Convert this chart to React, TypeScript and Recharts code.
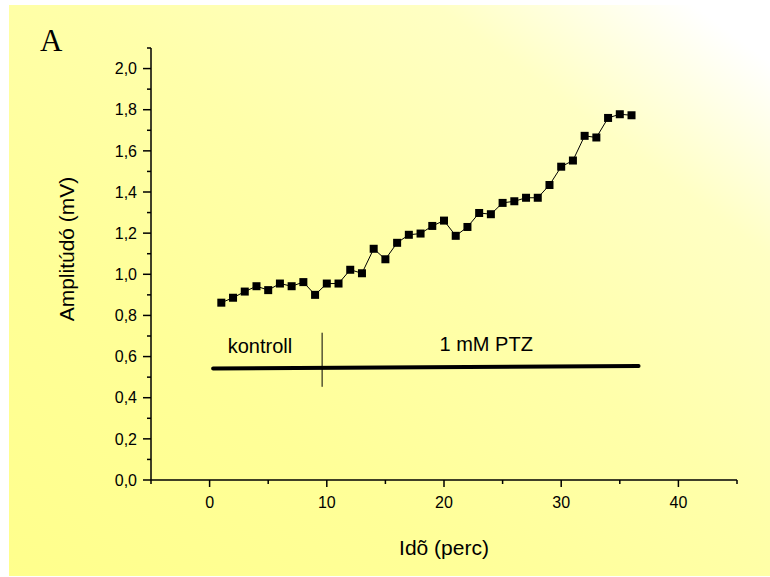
import React from "react";
import {
  ComposedChart,
  Line,
  XAxis,
  YAxis,
  ReferenceLine,
  ReferenceDot,
  Label,
} from "recharts";

// Idõ (perc) – minutes
const time = [
  1, 2, 3, 4, 5, 6, 7, 8, 9, 10, 11, 12, 13, 14, 15, 16, 17, 18, 19, 20, 21, 22, 23, 24, 25, 26,
  27, 28, 29, 30, 31, 32, 33, 34, 35, 36,
];
// Amplitúdó (mV)
const amplitude = [
  0.862, 0.886, 0.916, 0.942, 0.923, 0.955, 0.942, 0.962, 0.9, 0.955, 0.955, 1.022, 1.005, 1.124,
  1.073, 1.153, 1.192, 1.198, 1.235, 1.261, 1.187, 1.23, 1.298, 1.292, 1.347, 1.355, 1.372, 1.372,
  1.434, 1.523, 1.553, 1.673, 1.665, 1.76, 1.778, 1.773,
];

const xTicks = [-5, 0, 5, 10, 15, 20, 25, 30, 35, 40, 45];
const yTicks = [
  0, 0.1, 0.2, 0.3, 0.4, 0.5, 0.6, 0.7, 0.8, 0.9, 1.0, 1.1, 1.2, 1.3, 1.4, 1.5, 1.6, 1.7, 1.8,
  1.9, 2.0, 2.1,
];

// treatment bar: kontroll -> 1 mM PTZ
const barStart = { x: 0.3, y: 0.542 };
const barEnd = { x: 36.6, y: 0.554 };
const drugOnset = 9.6;
const onsetMarkLow = 0.453;
const onsetMarkHigh = 0.716;
const phaseLabels = [
  { x: 4.3, y: 0.65, text: "kontroll" },
  { x: 23.6, y: 0.663, text: "1 mM PTZ" },
];

const FONT = "'Liberation Sans', Arial, sans-serif";

const data = time.map((t, i) => ({ t, amp: amplitude[i] }));

function XTick(props: any) {
  const { x, y, payload } = props;
  const major = payload.value % 10 === 0;
  return (
    <g>
      <line x1={x} y1={y} x2={x} y2={y + (major ? 7 : 4)} stroke="#000" strokeWidth={1.5} />
      {major && (
        <text x={x} y={y + 28} textAnchor="middle" fontSize={16} fontFamily={FONT} fill="#000">
          {payload.value}
        </text>
      )}
    </g>
  );
}

function YTick(props: any) {
  const { x, y, payload } = props;
  const major = Math.round(payload.value * 10) % 2 === 0;
  return (
    <g>
      <line x1={x} y1={y} x2={x - (major ? 8 : 4)} y2={y} stroke="#000" strokeWidth={1.5} />
      {major && (
        <text x={x - 14} y={y} dy="0.36em" textAnchor="end" fontSize={16} fontFamily={FONT} fill="#000">
          {payload.value.toFixed(1).replace(".", ",")}
        </text>
      )}
    </g>
  );
}

function SquareDot(props: any) {
  const { cx, cy, index } = props;
  return <rect key={`sq-${index}`} x={cx - 4} y={cy - 4} width={8} height={8} fill="#000" />;
}

export default function App() {
  return (
    <div style={{ position: "absolute", left: 0, top: 0, width: 770, height: 577, background: "#fff" }}>
      <div
        style={{
          position: "absolute",
          left: 9,
          top: 5,
          width: 761,
          height: 571,
          background:
            "linear-gradient(to bottom left, #ffffff 0%, #ffffff 5%, #ffffc4 22%, #ffffaa 45%, #ffff98 70%, #ffff8c 100%)",
        }}
      />
      <div style={{ position: "absolute", left: 0, top: 0 }}>
        <ComposedChart
          width={770}
          height={577}
          data={data}
          margin={{ top: 48, right: 33, bottom: 0, left: 0 }}
        >
          <XAxis
            type="number"
            dataKey="t"
            domain={[-5, 45]}
            ticks={xTicks}
            interval={0}
            tickSize={0}
            tickMargin={0}
            tickLine={false}
            tick={<XTick />}
            height={97}
            axisLine={{ stroke: "#000", strokeWidth: 1.5 }}
          >
            <Label
              content={(p: any) => {
                const vb = p.viewBox;
                return (
                  <text
                    x={vb.x + vb.width / 2}
                    y={vb.y + 75}
                    textAnchor="middle"
                    fontSize={21}
                    fontFamily={FONT}
                    fill="#000"
                  >
                    Idõ (perc)
                  </text>
                );
              }}
            />
          </XAxis>
          <YAxis
            type="number"
            domain={[0, 2.1]}
            ticks={yTicks}
            interval={0}
            tickSize={0}
            tickMargin={0}
            tickLine={false}
            tick={<YTick />}
            width={151}
            axisLine={{ stroke: "#000", strokeWidth: 1.5 }}
          >
            <Label
              content={(p: any) => {
                const vb = p.viewBox;
                const cx = vb.x + 74;
                const cy = vb.y + 201;
                return (
                  <text
                    x={cx}
                    y={cy}
                    transform={`rotate(-90, ${cx}, ${cy})`}
                    textAnchor="middle"
                    fontSize={21}
                    fontFamily={FONT}
                    fill="#000"
                  >
                    Amplitúdó (mV)
                  </text>
                );
              }}
            />
            <Label
              content={(p: any) => {
                const vb = p.viewBox;
                return (
                  <text
                    x={vb.x + 40}
                    y={vb.y + 3}
                    fontSize={31}
                    fontFamily="'Liberation Serif', 'Times New Roman', serif"
                    fill="#000"
                  >
                    A
                  </text>
                );
              }}
            />
          </YAxis>
          <ReferenceLine
            segment={[barStart, barEnd]}
            stroke="#000"
            strokeWidth={4}
            strokeLinecap="round"
            ifOverflow="visible"
          />
          <ReferenceLine
            segment={[
              { x: drugOnset, y: onsetMarkLow },
              { x: drugOnset, y: onsetMarkHigh },
            ]}
            stroke="#000"
            strokeWidth={1}
          />
          {phaseLabels.map((l) => (
            <ReferenceDot
              key={l.text}
              x={l.x}
              y={l.y}
              r={0}
              fill="none"
              stroke="none"
              label={{
                value: l.text,
                position: "center",
                fontSize: 20,
                fontFamily: FONT,
                fill: "#000",
              }}
            />
          ))}
          <Line
            type="linear"
            dataKey="amp"
            stroke="#000"
            strokeWidth={1}
            dot={SquareDot}
            activeDot={false}
            isAnimationActive={false}
          />
        </ComposedChart>
      </div>
    </div>
  );
}
